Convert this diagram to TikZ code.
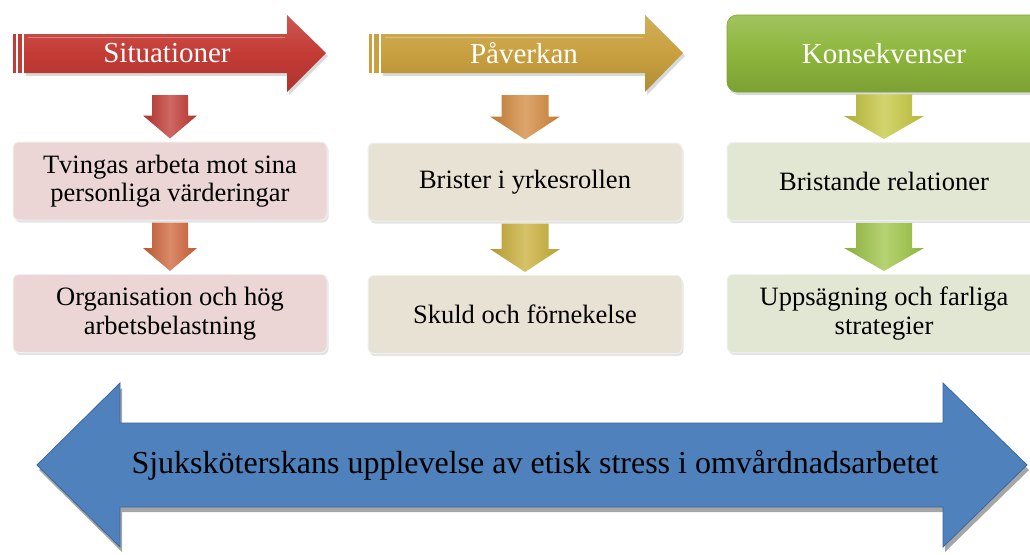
\documentclass[tikz,border=0pt]{standalone}
\usepackage{fontspec}
\setmainfont{Liberation Serif}
\usetikzlibrary{shadows,calc}
\definecolor{redA}{HTML}{C43B35}
\definecolor{goldA}{HTML}{C9A03F}
\definecolor{greenA}{HTML}{8DB63C}
\definecolor{boxR}{HTML}{EBD6D5}
\definecolor{boxG}{HTML}{E8E2D4}
\definecolor{boxK}{HTML}{E2E7D4}
\definecolor{arRa}{HTML}{C0352F}
\definecolor{arRb}{HTML}{CF6236}
\definecolor{arPa}{HTML}{D2873A}
\definecolor{arPb}{HTML}{C9AE36}
\definecolor{arKa}{HTML}{C4C63C}
\definecolor{arKb}{HTML}{9CC443}
\definecolor{blueA}{HTML}{4F81BD}
\definecolor{blueD}{HTML}{3B679E}

\newcommand\blockdown[5]{%
 \path[smallarrow, left color=#5!88!black, right color=#5!92!black, middle color=#5!75!white]
   let \p1=(#1), \p2=(#2) in
   ({\x2-#3pt},{\y1-2pt}) -- ({\x2+#3pt},{\y1-2pt}) -- ({\x2+#3pt},{\y2+26pt})
   -- ({\x2+#4pt},{\y2+26pt}) -- (\x2,{\y2+3pt}) -- ({\x2-#4pt},{\y2+26pt})
   -- ({\x2-#3pt},{\y2+26pt}) -- cycle;
}

\begin{document}
\begin{tikzpicture}[x=1pt,y=-1pt,
  hdrtxt/.style={text=white, font=\fontsize{29}{32}\selectfont},
  boxnode/.style={rounded corners=6pt, minimum width=314pt, minimum height=78pt,
    align=center, font=\fontsize{26.5}{28.5}\selectfont, draw=white!88!gray, line width=1pt,
    drop shadow={opacity=0.22, shadow xshift=1.5pt, shadow yshift=-2.5pt}},
  hdrk/.style={rounded corners=10pt, minimum width=314pt, minimum height=77pt,
    top color=greenA!82!white, bottom color=greenA!88!black, middle color=greenA,
    draw=greenA!90!black, line width=0.6pt, text=white, font=\fontsize{29}{32}\selectfont,
    drop shadow={opacity=0.3, shadow xshift=2pt, shadow yshift=-3pt}},
  hdrarrow/.style={drop shadow={opacity=0.3, shadow xshift=2pt, shadow yshift=-3pt}},
  smallarrow/.style={draw=none},
  bigarrow/.style={fill=blueA, draw=blueD, line width=0.8pt,
    drop shadow={opacity=0.7, shadow xshift=2pt, shadow yshift=-5pt}},
]
\useasboundingbox (0,0) rectangle (1030,554);

% header arrow 1
\path[hdrarrow, top color=redA!85!white, bottom color=redA!88!black, middle color=redA]
  (24,34) -- (287,34) -- (287,15) -- (326,53) -- (287,92) -- (287,73) -- (24,73) -- cycle;
\fill[redA] (13,34) rectangle (16,73);
\fill[redA] (18,34) rectangle (22,73);
\draw[white, opacity=0.3, line width=1pt] (28,37) -- (285,37);
\node[hdrtxt] (hs) at (167,53) {Situationer};

% header arrow 2
\path[hdrarrow, top color=goldA!85!white, bottom color=goldA!88!black, middle color=goldA]
  (381,34) -- (645,34) -- (645,15) -- (683,53) -- (645,92) -- (645,73) -- (381,73) -- cycle;
\fill[goldA] (369,34) rectangle (372,73);
\fill[goldA] (374,34) rectangle (379,73);
\draw[white, opacity=0.3, line width=1pt] (385,37) -- (643,37);
\node[hdrtxt] (hp) at (524,53) {Påverkan};

% header box 3
\node[hdrk] (hk) at (884,53.5) {Konsekvenser};

% boxes
\node[boxnode, fill=boxR] (s1) at (170,181) {Tvingas arbeta mot sina\\personliga värderingar};
\node[boxnode, fill=boxR] (s2) at (170,313.5) {Organisation och hög\\arbetsbelastning};
\node[boxnode, fill=boxG] (p1) at (525,182) {Brister i yrkesrollen};
\node[boxnode, fill=boxG] (p2) at (525,314.5) {Skuld och förnekelse};
\node[boxnode, fill=boxK] (k1) at (884,181.5) {Bristande relationer};
\node[boxnode, fill=boxK] (k2) at (884,313.5) {Uppsägning och farliga\\strategier};

% small arrows
\coordinate (hsb) at (170,93);
\coordinate (hpb) at (527,93);
\blockdown{hsb}{s1.north}{18}{27}{arRa}
\blockdown{s1.south}{s2.north}{18}{27}{arRb}
\blockdown{hpb}{p1.north}{23.5}{35}{arPa}
\blockdown{p1.south}{p2.north}{23.5}{35}{arPb}
\blockdown{hk.south}{k1.north}{28}{40}{arKa}
\blockdown{k1.south}{k2.north}{28}{40}{arKb}

% big double arrow
\path[bigarrow] (37,465) -- (120,383) -- (120,423) -- (943,423) -- (943,383) -- (1027,465)
  -- (943,547) -- (943,507) -- (120,507) -- (120,547) -- cycle;
\node[font=\fontsize{32}{36}\selectfont] (big) at (535,465)
  {Sjuksköterskans upplevelse av etisk stress i omvårdnadsarbetet};
\end{tikzpicture}
\end{document}
